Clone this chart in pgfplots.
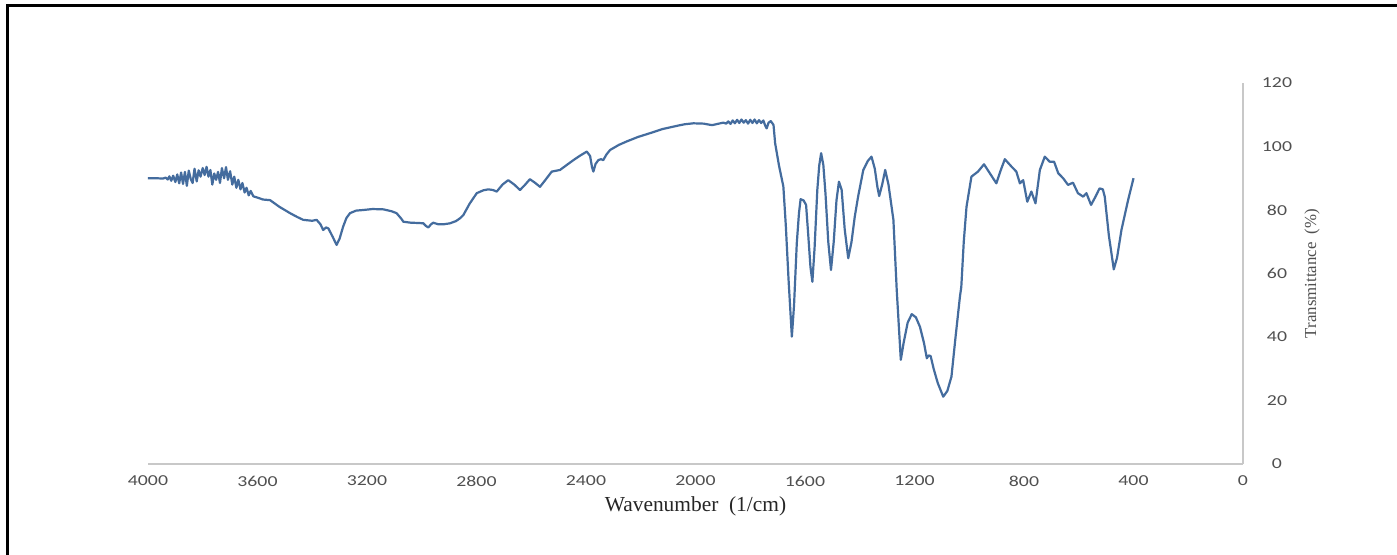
\documentclass[border=0pt]{standalone}
\usepackage{pgfplots}
\pgfplotsset{compat=1.18}
\usepackage{fontspec}
\setmainfont{Liberation Serif}
\newfontfamily\tickfont{Carlito}
\definecolor{specblue}{RGB}{68,108,158}
\definecolor{axgray}{RGB}{200,200,200}
\definecolor{tickgray}{RGB}{80,80,80}
\begin{document}
\begin{tikzpicture}
\useasboundingbox (0,0) rectangle (698.5pt,277.5pt);
\fill[white] (0,0) rectangle (698.5pt,277.5pt);
\draw[line width=1.5pt,black] (3.5pt,0) -- (3.5pt,274.5pt) -- (698.5pt,274.5pt);
\begin{axis}[
  at={(74pt,45.5pt)}, anchor=south west,
  scale only axis, width=547.5pt, height=190.5pt,
  x dir=reverse, xmin=0, xmax=4000, ymin=0, ymax=120,
  axis x line=bottom, axis y line=right,
  axis line style={axgray, line width=0.7pt, -},
  xtick={0,400,...,4000}, ytick={0,20,...,120},
  major tick length=0pt,
  /pgf/number format/assume math mode=true,
  /pgf/number format/set thousands separator={},
  tick label style={font=\tickfont\fontsize{7.6}{9}\selectfont, text=tickgray},
  xticklabel style={anchor=center, yshift=-8.5pt, xscale=1.3},
  yticklabel style={anchor=center, xshift=17pt, xscale=1.3},
  xlabel={Wavenumber\ \ (1/cm)},
  ylabel={Transmittance\ \ (\%)},
  xlabel style={at={(axis description cs:0.5,-0.110)}, anchor=center, font=\fontsize{10.7}{12}\selectfont, text=black!85},
  ylabel style={at={(axis description cs:1.063,0.5)}, anchor=center, font=\fontsize{8.4}{10}\selectfont, text=tickgray},
  clip=false,
]
\addplot[specblue, line width=1.1pt, line join=round] coordinates {
(4000,90.0) (3970,90.0) (3945,89.9) (3935,90.2) (3928,89.6) (3922,90.6) (3915,89.2) (3908,90.8)
(3900,88.8) (3893,91.2) (3886,88.4) (3879,91.8) (3872,88.2) (3865,92.0) (3858,87.6) (3851,92.4)
(3844,89.8) (3837,88.5) (3830,93.0) (3822,89.0) (3815,92.5) (3808,90.5) (3800,93.2) (3793,91.0)
(3786,93.6) (3779,90.5) (3772,92.6) (3765,88.0) (3758,91.5) (3751,89.5) (3744,92.0) (3737,88.5)
(3730,93.2) (3722,90.0) (3715,93.5) (3708,89.5) (3700,92.2) (3692,88.0) (3685,90.5) (3677,87.0)
(3670,89.5) (3662,86.5) (3655,88.5) (3647,85.5) (3640,87.0) (3632,84.6) (3625,86.0) (3615,84.3)
(3600,83.9) (3580,83.3) (3554,83.1) (3520,81.0) (3481,79.0) (3455,77.8) (3433,76.9) (3400,76.6)
(3384,76.9) (3370,75.5) (3360,73.7) (3350,74.5) (3341,74.2) (3325,71.5) (3311,69.0) (3300,71.0)
(3287,74.8) (3275,77.5) (3262,79.0) (3240,79.8) (3213,80.0) (3180,80.3) (3140,80.2) (3110,79.6)
(3092,79.0) (3075,77.3) (3067,76.3) (3040,76.0) (3010,75.9) (2994,75.8) (2985,75.0) (2976,74.5)
(2966,75.5) (2958,76.0) (2940,75.5) (2920,75.5) (2897,75.8) (2875,76.5) (2860,77.4) (2848,78.4)
(2825,82.0) (2799,85.3) (2775,86.2) (2757,86.5) (2740,86.3) (2726,85.8) (2705,88.0) (2684,89.4)
(2662,88.0) (2641,86.3) (2622,88.0) (2605,89.7) (2585,88.5) (2568,87.3) (2548,89.5) (2525,92.1)
(2495,92.6) (2470,94.2) (2446,95.7) (2420,97.2) (2397,98.4) (2385,97.0) (2378,93.5) (2373,92.1)
(2365,94.5) (2355,95.7) (2345,96.0) (2337,95.7) (2325,97.5) (2312,98.9) (2280,100.5) (2251,101.6)
(2210,103.0) (2166,104.2) (2120,105.5) (2068,106.5) (2040,107.0) (2008,107.3) (1970,107.2) (1945,106.8)
(1935,106.8) (1915,107.2) (1898,107.5) (1888,107.2) (1880,107.9) (1872,107.1) (1864,108.2) (1856,107.3)
(1848,108.4) (1840,107.4) (1832,108.5) (1824,107.5) (1816,108.3) (1808,107.2) (1800,108.4) (1792,107.4)
(1784,108.5) (1776,107.3) (1768,108.3) (1760,107.4) (1752,108.2) (1745,106.5) (1740,105.7) (1733,107.5)
(1725,108.0) (1715,106.8) (1709,101.0) (1703,98.0) (1695,94.0) (1679,87.4) (1670,75.0) (1660,58.0)
(1648,40.1) (1640,50.0) (1630,69.5) (1622,79.0) (1616,83.4) (1605,83.0) (1596,81.6) (1588,72.0)
(1580,62.0) (1573,57.4) (1565,68.0) (1555,86.3) (1548,94.0) (1541,97.9) (1533,94.2) (1525,85.0)
(1515,70.0) (1505,61.1) (1495,70.0) (1485,83.0) (1476,88.9) (1466,86.3) (1455,74.0) (1442,64.8)
(1430,70.0) (1418,78.0) (1406,84.2) (1387,92.6) (1370,95.5) (1357,96.8) (1345,93.0) (1335,87.0)
(1329,84.4) (1318,88.0) (1307,92.6) (1295,88.0) (1277,76.9) (1265,55.0) (1250,32.8) (1240,38.0)
(1225,44.5) (1210,47.2) (1195,46.2) (1180,43.2) (1165,38.0) (1155,33.3) (1148,34.2) (1141,34.0)
(1130,30.0) (1115,25.5) (1095,21.2) (1080,23.0) (1065,27.5) (1050,40.0) (1034,52.7) (1029,55.8)
(1020,70.0) (1010,81.0) (992,90.5) (968,92.1) (946,94.4) (925,91.6) (901,88.4) (885,92.5)
(870,96.0) (846,93.7) (828,92.1) (815,88.4) (803,89.4) (788,82.6) (773,85.8) (758,82.1)
(742,92.6) (724,96.8) (706,95.2) (690,95.2) (675,91.6) (657,90.0) (639,87.9) (621,88.6)
(603,85.3) (584,84.2) (572,85.3) (555,81.6) (540,84.0) (524,86.8) (512,86.5) (505,84.2)
(490,72.0) (472,61.3) (460,65.0) (444,73.7) (420,83.0) (400,90.0)
};
\end{axis}
\end{tikzpicture}
\end{document}
